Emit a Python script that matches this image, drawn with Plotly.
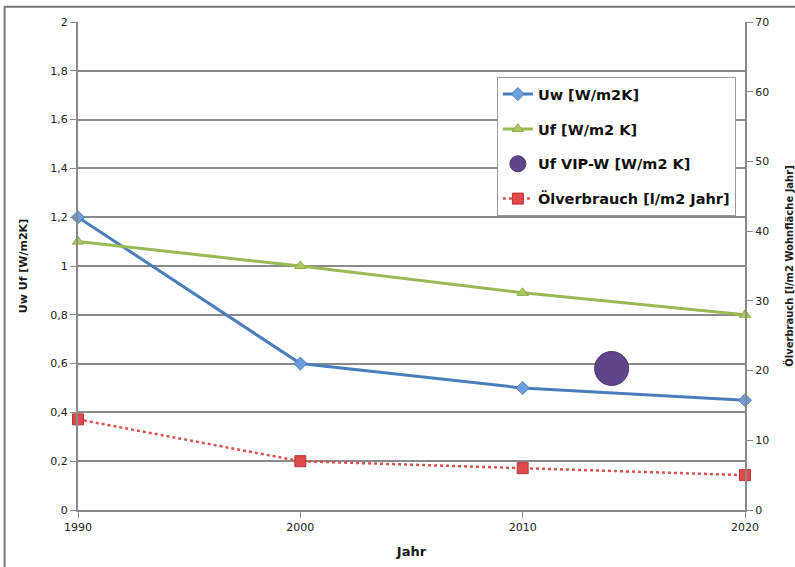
import plotly.graph_objects as go

# Jahre und Kennwerte
jahre = [1990, 2000, 2010, 2020]
uw = [1.2, 0.6, 0.5, 0.45]
uf = [1.1, 1.0, 0.89, 0.8]
vip_jahr = [2014]
uf_vip = [0.58]
oelverbrauch = [13, 7, 6, 5]

font_main = "DejaVu Sans"
grid_col = "#8a8a8a"

fig = go.Figure()

fig.add_trace(go.Scatter(
    x=jahre, y=uw, name="<b>Uw [W/m2K]</b>", mode="lines+markers", legendgroup="a",
    line=dict(color="#4a7ebb", width=3),
    marker=dict(symbol="diamond", size=10, color="#6e9fdc", line=dict(color="#4a7ebb", width=1)),
    cliponaxis=False,
))
fig.add_trace(go.Scatter(
    x=jahre, y=uf, name="<b>Uf [W/m2 K]</b>", mode="lines+markers", legendgroup="b",
    line=dict(color="#98b954", width=3),
    marker=dict(symbol="triangle-up", size=10, color="#a9cb62", line=dict(color="#8aab45", width=1)),
    cliponaxis=False,
))
fig.add_trace(go.Scatter(
    x=vip_jahr, y=uf_vip, name="<b>Uf VIP-W [W/m2 K]</b>", mode="markers", legendgroup="c",
    marker=dict(symbol="circle", size=34, color="#5f4589", line=dict(color="#4e3775", width=1)),
    cliponaxis=False,
))
fig.add_trace(go.Scatter(
    x=jahre, y=oelverbrauch, name="<b>Ölverbrauch [l/m2 Jahr]</b>", mode="lines+markers",
    yaxis="y2", legendgroup="d",
    line=dict(color="#d9534f", width=2.5, dash="dot"),
    marker=dict(symbol="square", size=11, color="#e04a4a", line=dict(color="#b83232", width=1)),
    cliponaxis=False,
))

fig.update_layout(
    width=795, height=567,
    margin=dict(l=78, r=50, t=22, b=57),
    paper_bgcolor="white", plot_bgcolor="white",
    separators=",.",
    font=dict(family=font_main, size=11, color="#1a1a1a"),
    showlegend=True,
    legend=dict(
        x=0.628, y=0.887, xanchor="left", yanchor="top",
        bgcolor="white", bordercolor="#9a9a9a", borderwidth=1,
        font=dict(family=font_main, size=14.5, color="#111"),
        tracegroupgap=13, itemwidth=30,
    ),
    xaxis=dict(
        range=[1990, 2020], tickmode="array", tickvals=jahre,
        showgrid=False, zeroline=False, automargin=False,
        showline=True, linecolor=grid_col, linewidth=2,
        ticks="outside", tickcolor=grid_col, ticklen=6,
        tickfont=dict(size=11, color="#222"),
        title=dict(text="<b>Jahr</b>", font=dict(size=13), standoff=14),
    ),
    yaxis=dict(
        range=[0, 2], dtick=0.2, automargin=False,
        showgrid=True, gridcolor=grid_col, gridwidth=2,
        zeroline=False, showline=True, linecolor=grid_col, linewidth=2,
        ticks="outside", tickcolor=grid_col, ticklen=6,
        tickfont=dict(size=11, color="#222"),
        title=dict(text="<b>Uw Uf [W/m2K]</b>", font=dict(size=11), standoff=20),
    ),
    yaxis2=dict(
        range=[0, 70], dtick=10, overlaying="y", side="right", automargin=False,
        showgrid=False, zeroline=False,
        showline=True, linecolor=grid_col, linewidth=2,
        ticks="outside", tickcolor=grid_col, ticklen=6,
        tickfont=dict(size=11, color="#222"),
        title=dict(text="<b>Ölverbrauch [l/m2 Wohnfläche Jahr]</b>", font=dict(size=10), standoff=22),
    ),
    shapes=[
        # Rahmen um die Grafik
        dict(type="rect", xref="paper", yref="paper", x0=-0.11, x1=1.1, y0=-0.15, y1=1.031,
             line=dict(color="#777", width=2), fillcolor="rgba(0,0,0,0)", layer="below"),
    ],
)

fig.write_html("out.html")
